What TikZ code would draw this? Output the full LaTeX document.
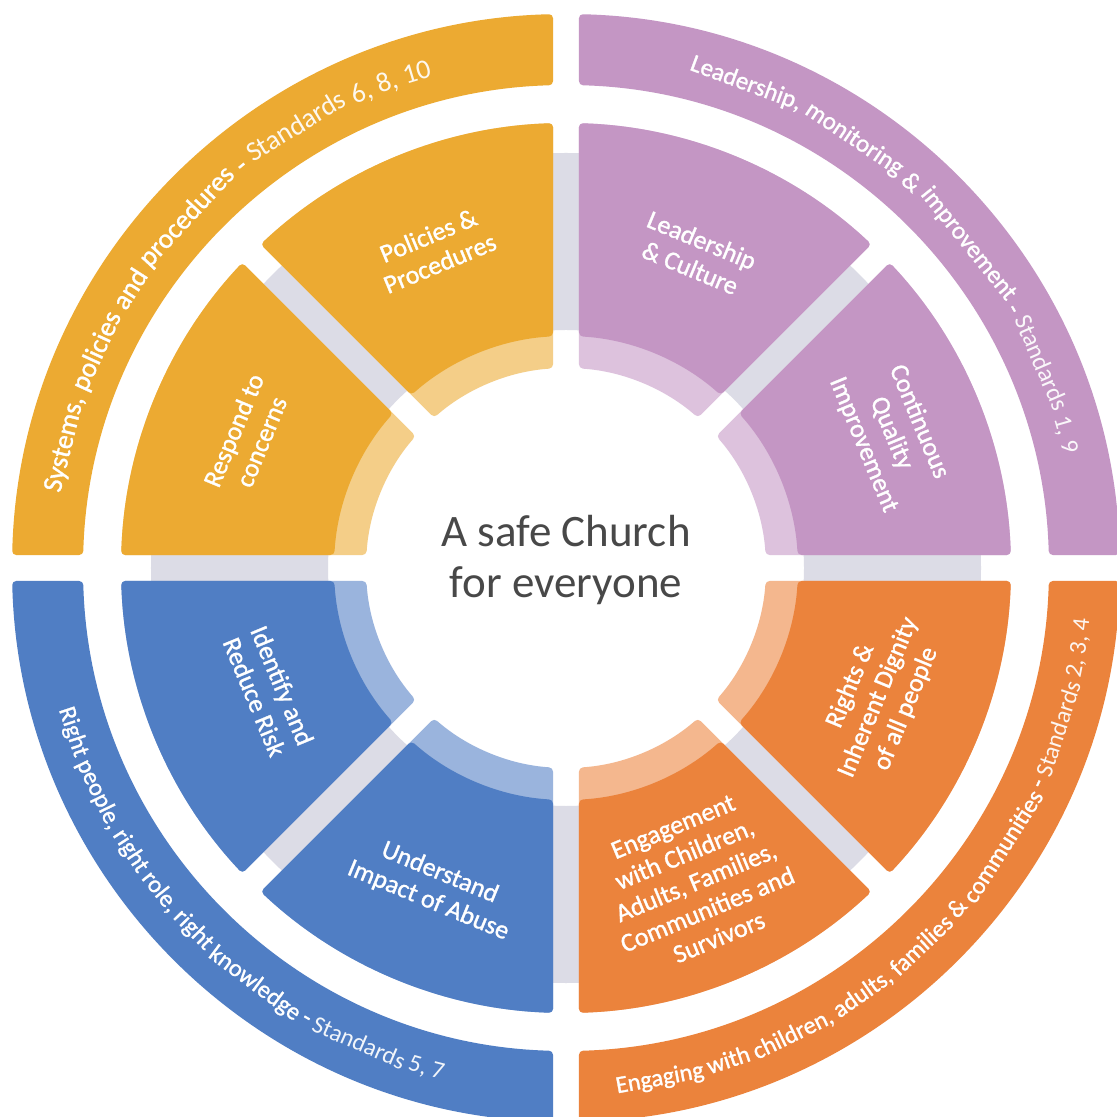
\documentclass[tikz,border=0pt]{standalone}
\usepackage{fontspec}
\setmainfont{Carlito}
\newfontfamily\heavyfont[FakeBold=1.2]{Carlito}
\newfontfamily\litefont{Carlito}

\definecolor{gold}{RGB}{236,170,50}
\definecolor{lilac}{RGB}{196,150,196}
\definecolor{cobalt}{RGB}{80,126,196}
\definecolor{tangerine}{RGB}{235,131,60}
\definecolor{ringgrey}{RGB}{220,220,230}
\definecolor{titlegrey}{RGB}{72,72,72}

% annular sector between angles #1 and #2, radii #3 < #4,
% trimmed so that a straight 26-unit gap runs along each bounding ray
\newcommand\sectorfill[5]{%
  \pgfmathsetmacro\sfAo{#1+asin(13/#4)}%
  \pgfmathsetmacro\sfBo{#2-asin(13/#4)}%
  \pgfmathsetmacro\sfAi{#1+asin(13/#3)}%
  \pgfmathsetmacro\sfBi{#2-asin(13/#3)}%
  \fill[#5, rounded corners=2pt] (\sfAo:#4) arc[start angle=\sfAo, end angle=\sfBo, radius=#4]
    -- (\sfBi:#3) arc[start angle=\sfBi, end angle=\sfAi, radius=#3] -- cycle;}

% one inner segment: pale inner rim plus solid body
\newcommand\petal[3]{%
  \sectorfill{#1}{#2}{200}{445}{#3!58!white}%
  \sectorfill{#1}{#2}{232}{445}{#3, sharp corners}}

% words set one by one along a circle
\newdimen\bandlen
% measure the words once: start offset and width of each, and the whole length
% #1 prefix, #2 font size (pt), #3 word list
\newcommand\measureband[3]{%
  \global\bandlen=0pt
  \foreach \w [count=\k] in #3 {%
    \setbox0=\hbox{\heavyfont\fontsize{#2}{#2}\selectfont\w}%
    \expandafter\xdef\csname #1w\k\endcsname{\the\wd0}%
    \expandafter\xdef\csname #1p\k\endcsname{\the\bandlen}%
    \setbox0=\hbox{\heavyfont\fontsize{#2}{#2}\selectfont\w\ }%
    \global\advance\bandlen by \wd0 }%
  \setbox0=\hbox{\heavyfont\fontsize{#2}{#2}\selectfont\ }\global\advance\bandlen by -\wd0
  \expandafter\xdef\csname #1len\endcsname{\the\bandlen}}
% #1 prefix, #2 font size, #3 baseline radius, #4 middle angle,
% #5 = -1 clockwise (letters face out), +1 anticlockwise (letters face in), #6 word list
\newcommand\bandtext[6]{%
  \foreach \w [count=\k] in #6 {%
    \pgfmathsetmacro\ang{#4 + #5*deg((\csname #1p\k\endcsname + 0.5*\csname #1w\k\endcsname
       - 0.5*\csname #1len\endcsname)/(#3*0.5))}%
    \node[bandword, font=\heavyfont\fontsize{#2}{#2}\selectfont, rotate={\ang + #5*90}]
      (#1-\k) at (\ang:#3) {\w};
  }}

\tikzset{
  seglabel/.style={text=white, align=center, font=\heavyfont\fontsize{13}{15}\selectfont},
  centretext/.style={text=titlegrey, font=\fontsize{22.5}{27}\selectfont, anchor=base},
  bandword/.style={text=white, anchor=base, inner sep=0pt},
}

\newcommand\wordsA{{Systems,},policies,and,procedures,-,
  {\litefont\color{white!92!gold}Standards},{\litefont\color{white!92!gold}6,},
  {\litefont\color{white!92!gold}8,},{\litefont\color{white!92!gold}10}}
\newcommand\wordsB{{Leadership,},monitoring,\&,improvement,-,
  {\litefont\color{white!92!lilac}Standards},{\litefont\color{white!92!lilac}1,},
  {\litefont\color{white!92!lilac}9}}
\newcommand\wordsC{Right,{people,},right,{role,},right,knowledge,-,
  {\litefont\color{white!92!cobalt}Standards},{\litefont\color{white!92!cobalt}5,},
  {\litefont\color{white!92!cobalt}7}}
\newcommand\wordsD{Engaging,with,{children,},{adults,},families,\&,communities,-,
  {\litefont\color{white!92!tangerine}Standards},{\litefont\color{white!92!tangerine}2,},
  {\litefont\color{white!92!tangerine}3,},{\litefont\color{white!92!tangerine}4}}

\begin{document}
\measureband{s}{13.8}{\wordsA}%
\measureband{l}{12.5}{\wordsB}%
\measureband{r}{12.2}{\wordsC}%
\measureband{e}{12.2}{\wordsD}%
\begin{tikzpicture}[x=0.5pt,y=0.5pt]
\useasboundingbox (-566,-549) rectangle (550,568);
\fill[white] (-566,-549) rectangle (550,568);

% grey ring behind the inner segments
\fill[ringgrey, even odd rule] (0,0) circle[radius=415] (0,0) circle[radius=238];

% inner segments
\petal{90}{135}{gold}
\petal{135}{180}{gold}
\petal{45}{90}{lilac}
\petal{0}{45}{lilac}
\petal{-45}{0}{tangerine}
\petal{-90}{-45}{tangerine}
\petal{-135}{-90}{cobalt}
\petal{-180}{-135}{cobalt}

% outer bands
\sectorfill{90}{180}{483}{554}{gold}
\sectorfill{0}{90}{483}{554}{lilac}
\sectorfill{-90}{0}{483}{554}{tangerine}
\sectorfill{-180}{-90}{483}{554}{cobalt}

% centre
\node[centretext] (title1) at (0,21) {A safe Church};
\node[centretext] (title2) at (0,-30) {for everyone};

% segment labels
\node[seglabel, rotate=22.5] (policies) at (112.5:345) {Policies \&\\Procedures};
\node[seglabel, rotate=67.5] (respond) at (157.5:345) {Respond to\\concerns};
\node[seglabel, rotate=-22.5] (leadership) at (67.5:340) {Leadership\\\& Culture};
\node[seglabel, rotate=-67.5] (quality) at (22.5:352) {Continuous\\Quality\\Improvement};
\node[seglabel, rotate=67.5] (rights) at (-22.5:338) {Rights \&\\Inherent Dignity\\of all people};
\node[seglabel, rotate=22.5] (engagement) at (-67.5:340) {Engagement\\with Children,\\Adults, Families,\\Communities and\\Survivors};
\node[seglabel, rotate=-22.5] (understand) at (-112.5:345) {Understand\\Impact of Abuse};
\node[seglabel, rotate=-67.5] (identify) at (-157.5:322) {Identify and\\Reduce Risk};

% curved band captions
\bandtext{s}{13.8}{509}{138.4}{-1}{\wordsA}
\bandtext{l}{12.5}{510}{44.5}{-1}{\wordsB}
\bandtext{r}{12.2}{526}{-134}{1}{\wordsC}
\bandtext{e}{12.2}{526}{-45}{1}{\wordsD}
\end{tikzpicture}
\end{document}
